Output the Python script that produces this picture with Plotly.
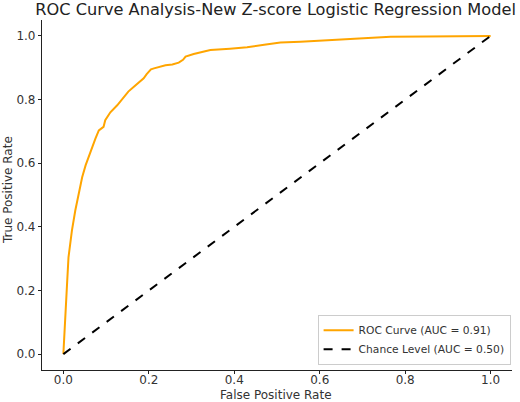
import plotly.graph_objects as go

# ROC curve points
fpr = [0.0, 0.002, 0.005, 0.009, 0.012, 0.02, 0.028, 0.036, 0.044, 0.052,
       0.059, 0.067, 0.075, 0.083, 0.094, 0.098, 0.102, 0.11, 0.126, 0.141,
       0.152, 0.165, 0.176, 0.188, 0.195, 0.205, 0.212, 0.225, 0.239, 0.255,
       0.27, 0.28, 0.286, 0.305, 0.32, 0.344, 0.39, 0.43, 0.47, 0.508,
       0.555, 0.586, 0.62, 0.664, 0.72, 0.766, 0.85, 0.93, 1.0]
tpr = [0.0, 0.063, 0.146, 0.23, 0.304, 0.388, 0.452, 0.504, 0.556, 0.593,
       0.619, 0.651, 0.677, 0.703, 0.714, 0.735, 0.745, 0.76, 0.782, 0.809,
       0.825, 0.84, 0.852, 0.867, 0.88, 0.895, 0.898, 0.902, 0.908, 0.91,
       0.916, 0.925, 0.935, 0.943, 0.948, 0.956, 0.96, 0.964, 0.972, 0.979,
       0.982, 0.984, 0.987, 0.99, 0.994, 0.997, 0.998, 0.999, 1.0]

chance_x = [0.0, 1.0]
chance_y = [0.0, 1.0]

roc_name = "ROC Curve (AUC = 0.91)"
chance_name = "Chance Level (AUC = 0.50)"
ticks = [0.0, 0.2, 0.4, 0.6, 0.8, 1.0]
tick_text = ["0.0", "0.2", "0.4", "0.6", "0.8", "1.0"]

FONT = "DejaVu Sans"
TEXT = "#333333"

fig = go.Figure()
fig.add_trace(
    go.Scatter(
        x=fpr, y=tpr, mode="lines", name=roc_name,
        line=dict(color="#FFA500", width=2),
    )
)
fig.add_trace(
    go.Scatter(
        x=chance_x, y=chance_y, mode="lines", name=chance_name,
        line=dict(color="black", width=2, dash="dash"),
    )
)

axis_common = dict(
    range=[-0.05, 1.05],
    tickvals=ticks,
    ticktext=tick_text,
    showgrid=False,
    zeroline=False,
    showline=True,
    linecolor="#222222",
    linewidth=1.2,
    ticks="outside",
    ticklen=3,
    tickcolor="#222222",
    tickfont=dict(family=FONT, size=12, color=TEXT),
    automargin=False,
)

fig.update_layout(
    width=520,
    height=402,
    plot_bgcolor="white",
    paper_bgcolor="white",
    margin=dict(l=42, r=8, t=20, b=32),
    title=dict(
        text="ROC Curve Analysis-New Z-score Logistic Regression Model",
        font=dict(family=FONT, size=16.2, color="#222222"),
        xref="container", x=0.53, xanchor="center",
        yref="container", y=0.978, yanchor="middle",
    ),
    xaxis=dict(axis_common, ticklabelstandoff=-5),
    yaxis=axis_common,
    legend=dict(
        x=0.997, y=0.015, xanchor="right", yanchor="bottom",
        bgcolor="white", bordercolor="#cccccc", borderwidth=1,
        font=dict(family=FONT, size=10.7, color=TEXT),
        itemwidth=30,
        tracegroupgap=0,
    ),
    showlegend=True,
)

# axis titles as annotations so they sit where the reference has them
fig.add_annotation(
    text="False Positive Rate", xref="paper", yref="paper",
    x=0.498, y=-0.07, xanchor="center", yanchor="middle",
    showarrow=False, font=dict(family=FONT, size=12, color=TEXT),
)
fig.add_annotation(
    text="True Positive Rate", xref="paper", yref="paper",
    x=-0.0723, y=0.514, xanchor="center", yanchor="middle", textangle=-90,
    showarrow=False, font=dict(family=FONT, size=12, color=TEXT),
)

# the browser adds an 8px body margin; drop it so the chart fills the window
fig.write_html(
    "out.html",
    config={"displayModeBar": False},
    post_script="document.body.style.margin='0';",
)
